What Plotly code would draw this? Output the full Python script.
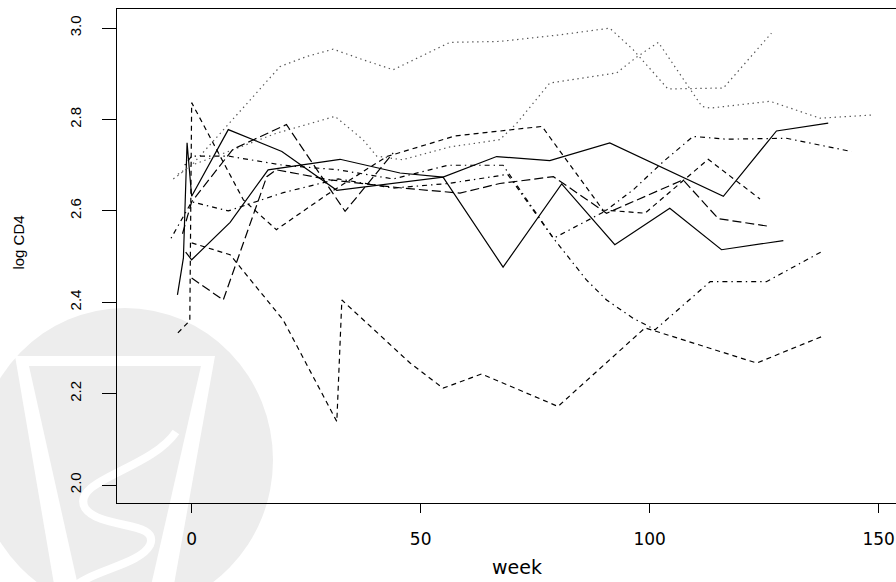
import plotly.graph_objects as go

# ---- data ----
solid_a_w = [-3.1, -1.8, -1.0, 0, 8, 19.7, 31.7, 54.9, 68, 80.8, 92.4, 104.4, 115.7, 129.2]
solid_a_v = [2.416, 2.497, 2.749, 2.632, 2.778, 2.730, 2.645, 2.674, 2.477, 2.659, 2.526, 2.606, 2.515, 2.535]

solid_b_w = [-1.3, 0, 8.4, 16.7, 32.4, 45.5, 54.9, 66.6, 78.2, 91.3, 116.1, 127.7, 139]
solid_b_v = [2.51, 2.493, 2.575, 2.69, 2.713, 2.683, 2.674, 2.719, 2.71, 2.749, 2.632, 2.775, 2.792]

dash_a_w = [0, 8.4, 20, 31.7, 32.8, 47.7, 54.9, 63.3, 80, 99, 123.4, 137.6]
dash_a_v = [2.53, 2.504, 2.361, 2.139, 2.405, 2.267, 2.212, 2.243, 2.172, 2.344, 2.267, 2.325]

dash_b_w = [-3, -0.4, 0, 11.3, 18.5, 30.2, 42.6, 57.5, 76.5, 89.8, 99, 112.8, 124.1]
dash_b_v = [2.333, 2.36, 2.837, 2.624, 2.559, 2.64, 2.719, 2.764, 2.785, 2.602, 2.595, 2.713, 2.626]

dot_a_w = [-4, 0, 7.6, 13.4, 19.3, 25.1, 30.9, 37.4, 44, 56.4, 67.3, 80, 91.3, 96.4, 104, 116.1, 126.6]
dot_a_v = [2.67, 2.70, 2.785, 2.851, 2.916, 2.938, 2.954, 2.931, 2.909, 2.969, 2.971, 2.985, 3.0, 2.953, 2.867, 2.869, 2.989]

dot_b_w = [-3, 0, 8, 18.5, 31.3, 37.4, 40.4, 46, 56.4, 67.3, 71, 78.2, 92.8, 97.2, 101.9,
           105.5, 111.4, 113.2, 126.3, 137.2, 148.8]
dot_b_v = [2.68, 2.70, 2.73, 2.77, 2.807, 2.756, 2.72, 2.712, 2.74, 2.756, 2.792, 2.88, 2.902, 2.937, 2.969,
           2.916, 2.829, 2.825, 2.84, 2.803, 2.81]

dotdash_a_w = [-1.5, 0, 8, 20, 32, 44, 56, 68, 79, 90.2, 96.4, 103, 109.5, 116.8, 129.9, 144.1]
dotdash_a_v = [2.70, 2.72, 2.72, 2.70, 2.69, 2.67, 2.70, 2.70, 2.54, 2.599, 2.646, 2.708, 2.763, 2.757, 2.759, 2.73]

dotdash_b_w = [-4.5, 0, 8, 20, 32, 44, 56, 69, 79, 83.3, 86.2, 90.6, 96.4, 101.2, 113.2, 125.5, 137.6]
dotdash_b_v = [2.54, 2.62, 2.60, 2.64, 2.67, 2.65, 2.66, 2.68, 2.54, 2.486, 2.449, 2.405, 2.365, 2.34, 2.445, 2.445, 2.511]

long_a_w = [0, 6.9, 16.4, 18.5, 30.2, 46, 58.6, 67.3, 79, 90.6, 107.3, 115, 125.6]
long_a_v = [2.453, 2.405, 2.675, 2.69, 2.668, 2.65, 2.639, 2.66, 2.675, 2.595, 2.668, 2.583, 2.567]

long_b_w = [-2, 0, 9, 20.7, 33.5, 44]
long_b_v = [2.55, 2.62, 2.735, 2.789, 2.599, 2.727]

x_tick_vals = [0, 50, 100, 150]
y_tick_vals = [2.0, 2.2, 2.4, 2.6, 2.8, 3.0]
y_tick_text = ["2.0", "2.2", "2.4", "2.6", "2.8", "3.0"]

series = [
    (solid_a_w, solid_a_v, "solid"),
    (dash_a_w, dash_a_v, "5px,4px"),
    (dot_a_w, dot_a_v, "1.4px,3.6px"),
    (dotdash_a_w, dotdash_a_v, "1.4px,4px,5px,4px"),
    (long_a_w, long_a_v, "9px,4px"),
    (solid_b_w, solid_b_v, "solid"),
    (dash_b_w, dash_b_v, "5px,4px"),
    (dot_b_w, dot_b_v, "1.4px,3.6px"),
    (dotdash_b_w, dotdash_b_v, "1.4px,4px,5px,4px"),
    (long_b_w, long_b_v, "9px,4px"),
]

fig = go.Figure()
for w, v, d in series:
    col = "#555555" if d.startswith("1.4px,3.6") else "black"
    fig.add_trace(go.Scatter(x=w, y=v, mode="lines",
                             line=dict(color=col, width=1.2, dash=d),
                             showlegend=False, hoverinfo="skip"))

W, H = 896, 582
L, R, T, B = 117, 0, 9, 79
pw, ph = W - L - R, H - T - B

def px(X):
    return (X - L) / pw

def py(Y):
    return (H - B - Y) / ph

def poly(points):
    return "M " + " L ".join(f"{px(x):.4f},{py(y):.4f}" for x, y in points) + " Z"

WM_GRAY = "#ededed"
# faint watermark logo in the lower-left corner (disc, cup outline, serpent)
shapes = [
    dict(type="circle", xref="paper", yref="paper", layer="below",
         x0=px(125 - 148), x1=px(125 + 148), y0=py(460 + 152), y1=py(460 - 152),
         fillcolor=WM_GRAY, line=dict(width=0)),
    dict(type="path", xref="paper", yref="paper", layer="below",
         path=poly([(15, 356), (215, 356), (173, 590), (55, 590)]),
         fillcolor="white", line=dict(width=0)),
    dict(type="path", xref="paper", yref="paper", layer="below",
         path=poly([(29, 366), (201, 366), (150, 590), (79, 590)]),
         fillcolor=WM_GRAY, line=dict(width=0)),
    dict(type="path", xref="paper", yref="paper", layer="below",
         path=(f"M {px(176):.4f},{py(432):.4f} "
               f"C {px(150):.4f},{py(470):.4f} {px(70):.4f},{py(480):.4f} {px(85):.4f},{py(508):.4f} "
               f"C {px(100):.4f},{py(530):.4f} {px(160):.4f},{py(520):.4f} {px(150):.4f},{py(545):.4f} "
               f"C {px(140):.4f},{py(565):.4f} {px(90):.4f},{py(570):.4f} {px(70):.4f},{py(590):.4f}"),
         line=dict(color="white", width=8)),
]

fig.update_layout(
    width=W, height=H,
    margin=dict(l=L, r=R, t=T, b=B, pad=0, autoexpand=False),
    paper_bgcolor="white", plot_bgcolor="rgba(0,0,0,0)",
    shapes=shapes,
    xaxis=dict(range=[-16.3, 153.8], tickvals=x_tick_vals, ticktext=[str(t) for t in x_tick_vals],
               showgrid=False, zeroline=False, showline=True, linecolor="black", linewidth=1.2,
               mirror=True, ticks="outside", ticklen=9, tickcolor="black", tickwidth=1.2,
               ticklabelstandoff=11, automargin=False,
               tickfont=dict(family="DejaVu Sans", size=17, color="black")),
    yaxis=dict(range=[1.9606, 3.042], tickvals=y_tick_vals, ticktext=y_tick_text,
               showgrid=False, zeroline=False, showline=True, linecolor="black", linewidth=1.2,
               ticks="outside", ticklen=14, tickcolor="black", tickwidth=1.2, tickangle=-90,
               ticklabelstandoff=15, automargin=False,
               tickfont=dict(family="Liberation Sans", size=15, color="black")),
    annotations=[
        dict(text="week", xref="paper", yref="paper", x=px(517), y=py(567), showarrow=False,
             xanchor="center", yanchor="middle", font=dict(family="DejaVu Sans", size=19, color="black")),
        dict(text="log CD4", xref="paper", yref="paper", x=px(19), y=py(242.6), showarrow=False,
             textangle=-90, xanchor="center", yanchor="middle",
             font=dict(family="Liberation Sans", size=15, color="black")),
    ],
)

fig.write_html("out.html", config={"displayModeBar": False},
               post_script="document.body.style.margin='0px';")
